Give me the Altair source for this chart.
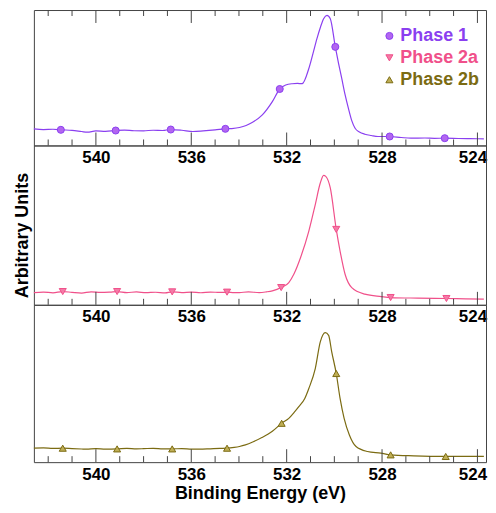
import altair as alt
import pandas as pd

SERIES = ["Phase 1", "Phase 2a", "Phase 2b"]
LINE = ["#8a3ff0", "#f0508a", "#7b6b12"]
FILL = ["#b266f0", "#f47aa6", "#bfae55"]
SHAPES = ["circle", "triangle-down", "triangle-up"]
FRAME = "#444444"
FONT = "Liberation Sans"

# Phase 1 (top panel)
e1 = [542.6, 542.2, 541.8, 541.47, 541.0, 540.6, 540.36, 540.0, 539.6, 539.17,
      538.8, 538.4, 538.0, 537.6, 537.2, 536.86, 536.4, 535.93, 535.5, 535.0,
      534.57, 534.3, 533.98, 533.7, 533.43, 533.02, 532.6, 532.29, 532.04, 531.77,
      531.55, 531.35, 531.07, 530.9, 530.73, 530.58, 530.45, 530.31, 530.17, 529.96,
      529.82, 529.69, 529.55, 529.41, 529.27, 529.13, 528.95, 528.72, 528.45, 528.17,
      527.68, 527.2, 526.79, 526.2, 525.8, 525.37, 524.8, 524.3, 523.73]
h1 = [16.7, 16.0, 16.3, 15.7, 15.2, 14.0, 13.3, 14.6, 14.2, 15.0,
      15.4, 14.8, 14.7, 15.3, 15.0, 16.0, 15.3, 14.0, 14.6, 15.6,
      16.7, 17.0, 18.0, 20.0, 23.3, 30.7, 44.0, 56.7, 60.7, 62.0,
      62.3, 62.0, 77.3, 92.0, 107.3, 119.0, 127.3, 130.7, 127.3, 99.0,
      82.0, 67.3, 51.0, 37.3, 25.0, 17.3, 13.5, 11.3, 10.0, 9.0,
      9.0, 8.0, 7.3, 7.5, 7.2, 7.3, 7.0, 6.8, 6.7]
m1_e = [541.47, 539.17, 536.86, 534.57, 532.29, 529.96, 527.68, 525.37]
m1_h = [15.7, 15.0, 16.0, 16.7, 56.7, 99.0, 9.0, 7.3]

# Phase 2a (middle panel)
e2 = [542.6, 542.2, 541.8, 541.39, 541.0, 540.6, 540.2, 539.8, 539.4, 539.11,
      538.7, 538.3, 537.9, 537.5, 537.1, 536.8, 536.4, 536.0, 535.6, 535.2,
      534.8, 534.5, 534.2, 533.98, 533.6, 533.15, 532.85, 532.6, 532.23, 531.91,
      531.7, 531.42, 531.07, 530.8, 530.59, 530.45, 530.36, 530.17, 529.92, 529.76,
      529.55, 529.27, 528.72, 528.03, 527.64, 526.5, 525.3, 524.5, 523.73]
h2 = [12.3, 12.8, 12.0, 13.3, 12.5, 11.8, 13.0, 12.4, 12.8, 13.3,
      12.3, 12.9, 12.2, 12.6, 12.0, 13.0, 12.3, 12.7, 12.1, 12.8,
      12.4, 12.7, 12.2, 12.3, 12.9, 12.3, 13.0, 14.0, 17.3, 22.3,
      30.7, 47.3, 74.0, 100.7, 122.3, 130.0, 129.0, 117.3, 75.7, 54.0,
      30.7, 17.3, 10.7, 8.3, 7.3, 6.7, 6.3, 6.0, 5.7]
m2_e = [541.39, 539.11, 536.8, 534.5, 532.23, 529.92, 527.64, 525.3]
m2_h = [13.3, 13.3, 13.0, 12.7, 17.3, 75.7, 7.3, 6.3]

# Phase 2b (bottom panel)
e3 = [542.6, 542.2, 541.8, 541.39, 541.0, 540.6, 540.4, 540.0, 539.6, 539.11,
      538.7, 538.3, 538.0, 537.6, 537.2, 536.8, 536.4, 536.0, 535.65, 535.2,
      534.8, 534.5, 534.2, 533.98, 533.73, 533.4, 533.04, 532.6, 532.21, 531.91,
      531.66, 531.49, 531.24, 531.07, 530.8, 530.59, 530.38, 530.24, 530.11, 529.92,
      529.76, 529.59, 529.37, 529.09, 528.61, 528.05, 527.64, 526.67, 525.33, 524.5,
      523.73]
h3 = [14.0, 14.3, 13.8, 14.0, 13.6, 13.2, 13.0, 13.6, 13.1, 13.3,
      13.8, 13.3, 13.5, 13.9, 13.4, 13.3, 13.6, 13.1, 13.0, 13.4,
      13.8, 14.0, 14.8, 15.7, 17.3, 20.5, 24.7, 31.0, 39.0, 44.0,
      50.7, 55.7, 64.0, 74.0, 94.0, 120.7, 130.0, 127.3, 110.7, 89.0,
      64.0, 44.0, 27.3, 15.7, 10.7, 9.0, 7.3, 6.3, 5.7, 5.7,
      5.7]
m3_e = [541.39, 539.11, 536.8, 534.5, 532.21, 529.92, 527.64, 525.33]
m3_h = [14.0, 13.3, 13.3, 14.0, 39.0, 89.0, 7.3, 5.7]

MAJOR = [540, 536, 532, 528, 524]
MINOR = [542, 541, 539, 538, 537, 535, 534, 533, 531, 530, 529, 527, 526, 525]

X_SCALE = alt.Scale(domain=[523.64, 542.6], reverse=True, nice=False, zero=False)
label_color = ("datum.label == 'Phase 1' ? '%s' : datum.label == 'Phase 2a' ? '%s' : '%s'"
               % tuple(LINE))
LEG = alt.Legend(title=None, orient="none", legendX=348, legendY=17,
                 labelFont=FONT, labelFontSize=18, labelFontWeight="bold",
                 labelColor={"expr": label_color}, symbolSize=50,
                 symbolStrokeWidth=1, rowPadding=4, labelOffset=2)


def panel(idx, e, h, me, mh, height, x_title=None, y_title=None, top_ticks=False):
    curve = pd.DataFrame({"E": e, "I": h})
    marks = pd.DataFrame({"E": me, "I": mh, "Series": SERIES[idx]})
    x_axis = alt.Axis(values=MAJOR, ticks=False, domain=False, grid=False,
                      labelFont=FONT, labelFontSize=17, labelFontWeight="bold",
                      labelColor="black", labelPadding=4,
                      labelOffset={"expr": "datum.value == 524 ? -5 : 0"},
                      title=x_title,
                      titleFont=FONT, titleFontSize=18, titleFontWeight="bold",
                      titleColor="black", titlePadding=3)
    if y_title:
        y_axis = alt.Axis(title=y_title, labels=False, ticks=False, domain=False,
                          grid=False, titleFont=FONT, titleFontSize=18,
                          titleFontWeight="bold", titleColor="black",
                          titlePadding=2, titleY=90)
    else:
        y_axis = None
    x = alt.X("E:Q", scale=X_SCALE, axis=x_axis)
    y = alt.Y("I:Q", scale=alt.Scale(domain=[0, height], nice=False, zero=False),
              axis=y_axis)

    line = alt.Chart(curve).mark_line(
        color=LINE[idx], strokeWidth=1.2, interpolate="monotone"
    ).encode(x=x, y=y)

    pts = alt.Chart(marks).mark_point(
        filled=False, opacity=1, size=50, strokeWidth=1
    ).encode(
        x="E:Q", y="I:Q",
        color=alt.Color("Series:N", scale=alt.Scale(domain=SERIES, range=LINE), legend=LEG),
        fill=alt.Fill("Series:N", scale=alt.Scale(domain=SERIES, range=FILL), legend=LEG),
        shape=alt.Shape("Series:N", scale=alt.Scale(domain=SERIES, range=SHAPES), legend=LEG),
    )

    layers = [line, pts]
    for vals, size in [(MINOR, 6), (MAJOR, 13)]:
        tdf = pd.DataFrame({"E": vals})
        layers.append(alt.Chart(tdf).mark_rule(color=FRAME, strokeWidth=1).encode(
            x="E:Q", y=alt.value(height), y2=alt.value(height - size)))
        if top_ticks:
            layers.append(alt.Chart(tdf).mark_rule(color=FRAME, strokeWidth=1).encode(
                x="E:Q", y=alt.value(0), y2=alt.value(size)))
    return alt.layer(*layers).properties(width=454, height=height)


top = panel(0, e1, h1, m1_e, m1_h, 136, top_ticks=True)
mid = panel(1, e2, h2, m2_e, m2_h, 160, y_title="Arbitrary Units")
bot = panel(2, e3, h3, m3_e, m3_h, 158, x_title="Binding Energy (eV)")

chart = alt.vconcat(top, mid, bot, spacing=0, bounds="flush").properties(
    padding={"left": 5, "top": 0, "right": 0, "bottom": 0}
).configure_view(stroke=FRAME, strokeWidth=1)

chart.save("out.html", embed_options={"renderer": "svg", "actions": False})
